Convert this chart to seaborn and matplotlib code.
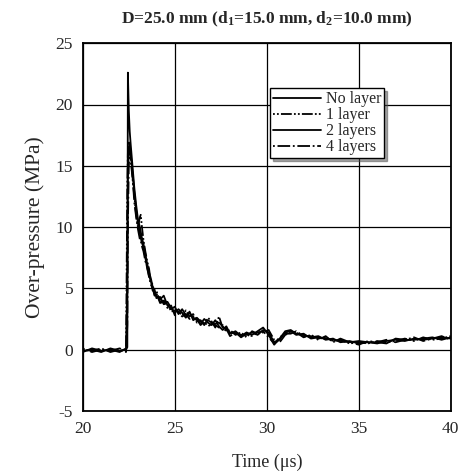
import pandas as pd
import matplotlib
matplotlib.use("Agg")
import matplotlib.pyplot as plt
import seaborn as sns

# time axis (us) and over-pressure traces (MPa)
time_us = [20.0, 20.5, 21.0, 21.5, 22.0, 22.35, 22.42, 22.45, 22.5, 22.55,
           22.6, 22.7, 22.8, 22.9, 23.0, 23.1, 23.15, 23.2, 23.3, 23.4,
           23.5, 23.6, 23.7, 23.8, 23.9, 24.0, 24.2, 24.4, 24.6, 24.8,
           25.0, 25.2, 25.4, 25.6, 25.8, 26.0, 26.2, 26.4, 26.6, 26.8,
           27.0, 27.2, 27.4, 27.6, 27.8, 28.0, 28.3, 28.6, 28.9, 29.2,
           29.5, 29.8, 30.1, 30.4, 30.7, 31.0, 31.3, 31.6, 32.0, 32.4,
           32.8, 33.2, 33.6, 34.0, 34.5, 35.0, 35.5, 36.0, 36.5, 37.0,
           37.5, 38.0, 38.5, 39.0, 39.5, 40.0]

no_layer = [-0.1, 0.0, -0.2, 0.1, -0.1, 0.0, 0.2, 22.6, 19.5, 17.8,
            16.8, 15.0, 13.2, 11.8, 10.6, 10.0, 9.6, 9.2, 8.6, 7.8,
            7.0, 6.3, 5.8, 5.1, 4.7, 4.4, 4.1, 4.4, 3.6, 3.3,
            3.5, 2.9, 3.3, 2.8, 3.0, 2.6, 2.4, 2.1, 2.5, 2.2,
            2.0, 2.4, 1.9, 1.6, 1.9, 1.3, 1.5, 1.1, 1.4, 1.2,
            1.5, 1.8, 1.2, 0.4, 0.9, 1.5, 1.6, 1.3, 1.2, 1.0,
            1.1, 0.8, 0.9, 0.6, 0.7, 0.5, 0.6, 0.5, 0.7, 0.8,
            0.7, 0.9, 0.8, 0.9, 1.0, 0.9]

one_layer = [0.1, -0.2, 0.0, -0.1, 0.1, -0.1, 13.5, 16.0, 17.0, 16.5,
             15.5, 14.0, 12.5, 11.0, 10.0, 10.8, 11.0, 10.2, 8.9, 8.0,
             7.2, 6.6, 5.5, 5.3, 4.5, 4.8, 3.9, 4.0, 3.8, 3.1,
             3.2, 3.1, 2.8, 3.2, 2.7, 2.9, 2.2, 2.4, 2.0, 2.6,
             2.3, 1.8, 2.7, 1.8, 1.5, 1.6, 1.2, 1.4, 1.0, 1.5,
             1.3, 1.4, 1.6, 0.8, 0.6, 1.2, 1.4, 1.4, 1.0, 1.2,
             0.9, 1.0, 0.7, 0.8, 0.5, 0.6, 0.5, 0.7, 0.6, 0.7,
             0.9, 0.7, 1.0, 0.8, 0.9, 1.1]

two_layers = [-0.2, 0.1, -0.1, 0.0, -0.2, 0.1, 6.0, 14.0, 16.5, 16.8,
              16.0, 14.5, 12.8, 11.4, 10.3, 9.5, 9.1, 8.8, 8.3, 7.5,
              6.6, 6.0, 5.6, 4.8, 4.9, 4.2, 4.3, 3.7, 3.9, 3.4,
              3.0, 3.3, 3.0, 2.6, 3.1, 2.4, 2.6, 2.3, 2.1, 2.4,
              2.2, 2.1, 2.2, 1.9, 1.6, 1.4, 1.3, 1.2, 1.2, 1.4,
              1.2, 1.6, 1.4, 0.6, 0.8, 1.4, 1.5, 1.2, 1.3, 0.9,
              1.0, 0.9, 0.8, 0.7, 0.6, 0.7, 0.6, 0.6, 0.5, 0.9,
              0.8, 0.8, 0.9, 1.0, 0.8, 1.0]

four_layers = [0.0, -0.1, 0.1, -0.2, 0.0, -0.2, 2.0, 10.0, 15.0, 16.2,
               15.8, 14.2, 12.0, 10.8, 9.8, 9.0, 8.9, 8.5, 8.0, 7.2,
               6.8, 5.9, 5.3, 5.0, 4.4, 4.6, 3.8, 3.9, 3.4, 3.6,
               2.8, 3.0, 2.7, 2.9, 2.5, 2.7, 2.5, 2.0, 2.3, 1.9,
               2.1, 2.0, 1.8, 2.0, 1.7, 1.1, 1.4, 1.0, 1.3, 1.1,
               1.4, 1.5, 1.0, 0.5, 1.0, 1.3, 1.3, 1.5, 1.1, 1.1,
               0.8, 1.1, 0.6, 0.9, 0.6, 0.4, 0.7, 0.6, 0.8, 0.6,
               0.8, 1.0, 0.7, 0.9, 1.1, 0.8]

series_names = ["No layer", "1 layer", "2 layers", "4 layers"]
series_values = [no_layer, one_layer, two_layers, four_layers]

frames = []
for name, vals in zip(series_names, series_values):
    frames.append(pd.DataFrame({"time": time_us, "pressure": vals, "case": name}))
df = pd.concat(frames, ignore_index=True)

sns.set_style("white")
plt.rcParams["font.family"] = ["Liberation Serif", "DejaVu Serif"]
plt.rcParams["mathtext.default"] = "regular"
plt.rcParams["axes.unicode_minus"] = False

fig = plt.figure(figsize=(4.6, 4.75), dpi=100)
ax = fig.add_axes([0.180, 0.135, 0.800, 0.774])

dash_styles = {
    "No layer": "",
    "1 layer": (1, 1.2, 1, 1.2, 6, 1.2),
    "2 layers": "",
    "4 layers": (1, 1.5, 7, 1.5),
}
sns.lineplot(data=df, x="time", y="pressure", hue="case", style="case",
             hue_order=series_names, style_order=series_names,
             palette=["black"] * 4, dashes=dash_styles, linewidth=1.3,
             ax=ax, estimator=None, sort=False)

ax.set_xlim(20, 40)
ax.set_ylim(-5, 25)
ax.set_xticks([20, 25, 30, 35, 40])
ax.set_yticks([-5, 0, 5, 10, 15, 20, 25])
ax.grid(True, color="black", linewidth=0.9, linestyle="-")
ax.tick_params(length=0, labelsize=12.5, pad=7)
for s in ax.spines.values():
    s.set_color("black")
    s.set_linewidth(1.3)

ax.set_xlabel("Time (μs)", fontsize=13, labelpad=12)
ax.set_ylabel("Over-pressure (MPa)", fontsize=15.5, labelpad=8)
ax.set_title("D=25.0 mm (d$_1$=15.0 mm, d$_2$=10.0 mm)",
             fontsize=12.5, fontweight="bold", pad=14)

leg = ax.legend(loc="upper left", bbox_to_anchor=(0.508, 0.878),
                fontsize=11.5, frameon=True, fancybox=False, shadow=True,
                handlelength=3.0, handletextpad=0.3, borderpad=0.2,
                labelspacing=0.0, borderaxespad=0)
leg.get_frame().set_edgecolor("black")
leg.get_frame().set_linewidth(1.0)

plt.savefig("out.png", dpi=100)
